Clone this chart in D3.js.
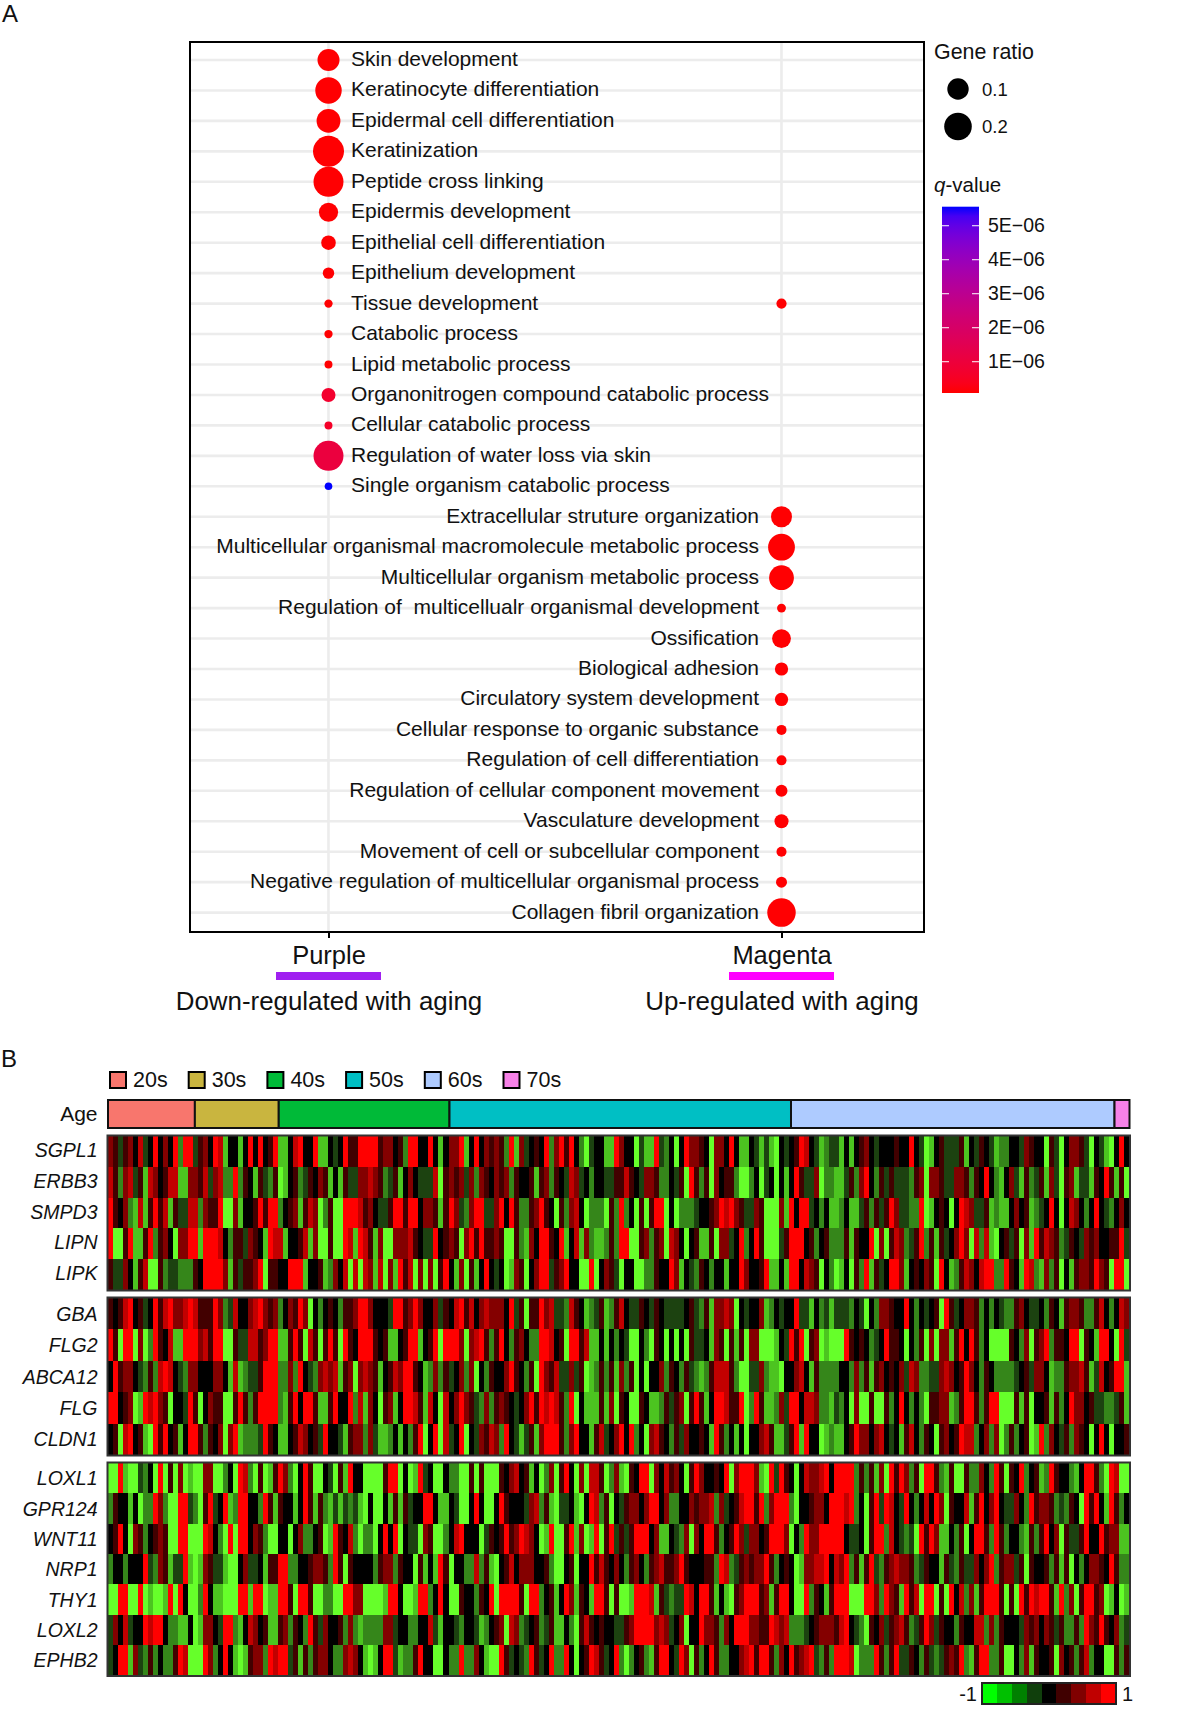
<!DOCTYPE html>
<html><head><meta charset="utf-8">
<script src="https://cdn.jsdelivr.net/npm/d3@7"></script>
<style>
html,body{margin:0;padding:0;background:#fff}
svg{display:block}
text{font-family:"Liberation Sans",Arial,sans-serif;fill:#111;white-space:pre}
</style></head><body>
<svg id="c" width="1200" height="1728" viewBox="0 0 1200 1728"></svg>
<script>
// ---------- Panel A data ----------
const terms=["Skin development","Keratinocyte differentiation","Epidermal cell differentiation","Keratinization","Peptide cross linking","Epidermis development","Epithelial cell differentiation","Epithelium development","Tissue development","Catabolic process","Lipid metabolic process","Organonitrogen compound catabolic process","Cellular catabolic process","Regulation of water loss via skin","Single organism catabolic process","Extracellular struture organization","Multicellular organismal macromolecule metabolic process","Multicellular organism metabolic process","Regulation of  multicellualr organismal development","Ossification","Biological adhesion","Circulatory system development","Cellular response to organic substance","Regulation of cell differentiation","Regulation of cellular component movement","Vasculature development","Movement of cell or subcellular component","Negative regulation of multicellular organismal process","Collagen fibril organization"];
const modules=["Purple","Magenta"];
const moduleNotes=["Down-regulated with aging","Up-regulated with aging"];
const moduleColors=["#a020f0","#ff00ff"];
// term index, module index, gene ratio, q-value
const dotTerm=[0,1,2,3,4,5,6,7,8,8,9,10,11,12,13,14,15,16,17,18,19,20,21,22,23,24,25,26,27,28];
const dotModule=[0,0,0,0,0,0,0,0,0,1,0,0,0,0,0,0,1,1,1,1,1,1,1,1,1,1,1,1,1,1];
const dotRatio=[.11,.181,.139,.25,.235,.086,.0575,.0375,.018,.03,.018,.016,.054,.016,.235,.014,.0975,.187,.155,.022,.084,.049,.049,.029,.029,.041,.054,.029,.035,.213];
const dotQ=[1e-7,1e-7,1e-7,1e-7,1e-7,1e-7,1e-7,1e-7,1e-7,1e-7,1e-7,1e-7,7e-7,6e-7,1.05e-6,5.56e-6,1e-7,1e-7,1e-7,1e-7,1e-7,1e-7,1e-7,1e-7,1e-7,1e-7,1e-7,1e-7,1e-7,1e-7];
const ratioLegend=[0.1,0.2];
const qTicks=[1e-6,2e-6,3e-6,4e-6,5e-6];
const qDomain=[0.08e-6,5.56e-6];

// ---------- Panel B data ----------
const ageGroups=["20s","30s","40s","50s","60s","70s"];
const ageColors=["#F8766D","#C9B53F","#00BA38","#00BFC4","#AECBFF","#F781E8"];
const ageCounts=[29,28,57,114,108,5];
const genes1=["SGPL1","ERBB3","SMPD3","LIPN","LIPK"];
const genes2=["GBA","FLG2","ABCA12","FLG","CLDN1"];
const genes3=["LOXL1","GPR124","WNT11","NRP1","THY1","LOXL2","EPHB2"];
// levels read by eye, 0 = strongest green, 4 = black, 8 = strongest red
const heat1=[
"6535647348 4648288356 4871441484 8458114784 4811434855 8888566452 88448414 6681484656 5281634548 2685842034 4118644031 1832404866 5406648411 43131043 4587431233 1414564344 4544843014 5333514354 3122443654 4053046653 04310484",
"7526735176 4577116657 3672282541 5325014523 5465141533 6676523514 64333705 6563626546 5625445156 2543763424 4335575436 6522435085 2506455200 24034041 4853360221 1352684253 5333256066 5336652548 4214631523 5163056133 15485150",
"8546217158 5715337726 5580061445 8588245615 7602500888 7564335885 88466515 8632688336 8485225685 4052674022 2052824050 5880402223 4456878653 36500061 8488342411 2411352535 8633228014 5404876335 1211464512 3484047642 48432464",
"8005811582 5640668818 8874255365 4187714457 1600500871 8751600666 75433845 6506858556 5005216488 5481471621 1252880056 2560764045 1150663482 48500035 8884524522 2515448060 5762358251 5346860727 1045350618 5765235436 56445583",
"5336415700 5233222548 8886153556 8055448881 4451264707 0761706185 70606058 4160514843 4016504688 3568440080 4653044002 2544861432 5424414486 44581141 8847650420 1405281534 8861454650 8412576478 8228541872 1625041566 58650880"];
const heat2=[
"5457845348 5786678755 5862374467 8656246586 0424542556 8864443885 68644635 4785746766 6483505586 7332754123 5125743354 3543333453 2516676043 44612434 4833142313 3324304266 5448424345 0853466524 2432256433 4254156652 25742476",
"8508806028 5471188867 5880053377 5688115850 7505850854 8885451145 88145808 8860678525 8425642288 7450885711 4142430042 0540404053 3416505150 66000143 8580560100 0854542348 5540425060 6615848524 0000542605 6825548805 41884083",
"4856643252 7874326644 4664171233 5888226284 3267671560 6765145768 85412625 3462604254 4685425086 5733635012 5251625040 4462542532 1257775200 33621104 4674152222 4426251564 5463762233 6764586425 4222234536 6412256675 13745881",
"8845601878 6504438504 6550058525 8888215848 8511584482 7164056148 87517407 4686532625 6543468587 8752804111 5160540054 1125356058 5148875580 28511263 8847762213 2406005005 2484242055 6612588525 8800051504 4515248664 53322351",
"4507845108 5845148852 5460681222 3854114576 4538443156 6263112414 25804807 3480436576 2843135168 8852684415 7346848240 6754253644 5418524140 44675113 5818440121 1458664674 3415742540 5645877246 2602524501 8264352654 04840445"];
const heat3=[
"0081003240 8050601006 6002408720 5015862048 5004305184 4000058804 01834004 2200505000 5467451402 6058406077 5026105488 0647564058 6445480688 86108385 4047667848 8882525160 8586250885 2150052264 2850548245 1285442148 85208700",
"2544140228 6200883205 8348128844 2851544148 5152131323 1040041515 34488411 4300484004 8544436725 1033410487 2504356646 8846224465 6672634578 85826888 2044566488 8782405838 7438424748 6054471584 6843364285 6652325408 58418524",
"4584065245 6500880008 7420808846 5200440462 2450185472 0220484804 33065002 4784440354 5856876401 8005816018 0583535888 4611432606 4885245863 66458886 0428668888 8433405882 7432308586 1142504885 2852442152 5846053358 44856611",
"2442444832 6513381016 5331004633 4155882244 5665285054 4442566254 40514185 0442272510 4574666445 2004504485 7546425642 5675568544 4552872356 56685245 4016677847 6825158325 6766523544 1532533646 8256635054 4525150424 66548522",
"0088008010 0180840028 4110008818 8011885088 5002200886 6000018840 01882484 0054425480 8888508824 5148615418 8505001888 7153233874 8851410568 88561588 4008254158 8800088628 6518570880 5084726158 8850508587 8851826058 85601401",
"3647344878 8422114016 6438821476 4511562542 8536445262 1222266344 22447314 4324431245 6076234523 5114205754 5443356888 8676346044 8665264888 66558767 2223456665 7843205463 5675235863 5442544772 6254443656 4653522528 65854623",
"3488163252 4225870008 6248410156 6287883515 2566422676 4101488312 25844004 2282264100 8534328534 8228404587 5348202452 1588438605 2485224467 85885264 8567832528 8870222852 5833542532 3565821588 2250042615 4450645257 24400525"];
const heatPalette=["#66ff2a","#4cc420","#35861a","#1c4210","#000000","#420000","#840000","#c20000","#ff0000"];
const keyValues=[-1,-.75,-.5,-.25,0,.25,.5,.75,1];
const keyColors=["#00ff00","#00c000","#008000","#103f0c","#000000","#400000","#800000","#c00000","#ff0000"];

// ---------- Drawing ----------
const svg=d3.select("#c");
svg.append("rect").attr("width",1200).attr("height",1728).attr("fill","#fff");
const panel={l:190,r:924,t:42,b:932};

svg.append("text").attr("x",2).attr("y",22).attr("font-size",24).text("A");
svg.append("text").attr("x",1).attr("y",1067).attr("font-size",24).text("B");

const yRow=d3.scalePoint().domain(d3.range(terms.length)).range([60,912.6]);
const xMod=d3.scalePoint().domain(modules).range([328.5,781.5]);
const rScale=d3.scaleLinear().domain([.01,.1,.2,.25]).range([3.5,10.7,13.8,15.5]);
const qColor=d3.scaleLinear().domain(qDomain).range(["#ff0000","#0000ff"]).interpolate(d3.interpolateLab);

const g=svg.append("g");
g.selectAll("line.h").data(terms).join("line").attr("class","h")
 .attr("x1",panel.l).attr("x2",panel.r).attr("y1",(d,i)=>yRow(i)).attr("y2",(d,i)=>yRow(i))
 .attr("stroke","#ececec").attr("stroke-width",2.6);
g.selectAll("line.v").data(modules).join("line").attr("class","v")
 .attr("x1",d=>xMod(d)).attr("x2",d=>xMod(d)).attr("y1",panel.t).attr("y2",panel.b)
 .attr("stroke","#ececec").attr("stroke-width",2.6);

const labelSide=terms.map((t,i)=>dotModule[dotTerm.indexOf(i)]);
g.selectAll("text.term").data(terms).join("text").attr("class","term")
 .attr("font-size",21)
 .attr("x",(d,i)=>labelSide[i]===0?351:759)
 .attr("y",(d,i)=>yRow(i)+6)
 .attr("text-anchor",(d,i)=>labelSide[i]===0?"start":"end")
 .text(d=>d);

g.selectAll("circle.dot").data(dotTerm).join("circle").attr("class","dot")
 .attr("cx",(d,i)=>xMod(modules[dotModule[i]]))
 .attr("cy",d=>yRow(d))
 .attr("r",(d,i)=>rScale(dotRatio[i]))
 .attr("fill",(d,i)=>qColor(dotQ[i]));

svg.append("rect").attr("x",panel.l).attr("y",panel.t).attr("width",panel.r-panel.l).attr("height",panel.b-panel.t)
 .attr("fill","none").attr("stroke","#000").attr("stroke-width",2);

// module axis
const ax=svg.append("g").attr("transform",`translate(0,${panel.b})`)
 .call(d3.axisBottom(xMod).tickSize(6).tickPadding(8));
ax.select(".domain").remove();
ax.selectAll("line").attr("stroke","#000").attr("stroke-width",2);
ax.selectAll("text").attr("font-size",25.5).attr("font-family",'"Liberation Sans",Arial,sans-serif').attr("fill","#111");
svg.selectAll("rect.mod").data(modules).join("rect").attr("class","mod")
 .attr("x",d=>xMod(d)-52.5).attr("width",105).attr("y",972).attr("height",8)
 .attr("fill",(d,i)=>moduleColors[i]);
svg.selectAll("text.note").data(moduleNotes).join("text").attr("class","note")
 .attr("x",d=>xMod(modules[moduleNotes.indexOf(d)])+.5).attr("y",1010).attr("text-anchor","middle").attr("font-size",25.9).text(d=>d);

// Gene ratio legend
svg.append("text").attr("x",934).attr("y",59).attr("font-size",21.4).text("Gene ratio");
const legY=d3.scaleOrdinal().domain(ratioLegend).range([89,126.5]);
svg.selectAll("circle.leg").data(ratioLegend).join("circle").attr("class","leg")
 .attr("cx",958).attr("cy",d=>legY(d)).attr("r",d=>rScale(d)).attr("fill","#000");
svg.selectAll("text.leg").data(ratioLegend).join("text").attr("class","leg")
 .attr("x",982).attr("y",d=>legY(d)+6.5).attr("font-size",18.5).text(d=>d.toFixed(1));

// q-value colour bar
const qt=svg.append("text").attr("x",934).attr("y",192).attr("font-size",20.5);
qt.append("tspan").attr("font-style","italic").text("q");
qt.append("tspan").text("-value");
const yQ=d3.scaleLinear().domain(qDomain).range([393,206.7]);
const defs=svg.append("defs");
const grad=defs.append("linearGradient").attr("id","qg").attr("x1",0).attr("x2",0).attr("y1",1).attr("y2",0);
grad.selectAll("stop").data(d3.range(0,1.0001,.05)).join("stop")
 .attr("offset",d=>d).attr("stop-color",d=>qColor(qDomain[0]+d*(qDomain[1]-qDomain[0])));
svg.append("rect").attr("x",942).attr("width",37).attr("y",yQ(qDomain[1])).attr("height",yQ(qDomain[0])-yQ(qDomain[1])).attr("fill","url(#qg)");
svg.selectAll("line.q1").data(qTicks).join("line").attr("class","q1")
 .attr("x1",942).attr("x2",949).attr("y1",d=>yQ(d)).attr("y2",d=>yQ(d)).attr("stroke","#fff").attr("stroke-width",1);
svg.selectAll("line.q2").data(qTicks).join("line").attr("class","q2")
 .attr("x1",972).attr("x2",979).attr("y1",d=>yQ(d)).attr("y2",d=>yQ(d)).attr("stroke","#fff").attr("stroke-width",1);
const qa=svg.append("g").attr("transform","translate(979,0)")
 .call(d3.axisRight(yQ).tickValues(qTicks).tickSize(0).tickPadding(9).tickFormat(d=>Math.round(d*1e6)+"E\u221206"));
qa.select(".domain").remove();
qa.selectAll("text").attr("font-size",19.5).attr("font-family",'"Liberation Sans",Arial,sans-serif').attr("fill","#111");

// Age legend and bar
const heatX0=108, heatX1=1129.5;
const legX=d3.scalePoint().domain(ageGroups).range([109,502.5]);
svg.selectAll("rect.al").data(ageGroups).join("rect").attr("class","al")
 .attr("x",d=>legX(d)+1).attr("y",1072).attr("width",16).attr("height",16)
 .attr("fill",(d,i)=>ageColors[i]).attr("stroke","#000").attr("stroke-width",2);
svg.selectAll("text.al").data(ageGroups).join("text").attr("class","al")
 .attr("x",d=>legX(d)+24).attr("y",1087).attr("font-size",21.5).text(d=>d);
svg.append("text").attr("x",97.5).attr("y",1121).attr("text-anchor","end").attr("font-size",21).text("Age");
const total=d3.sum(ageCounts);
const xAge=d3.scaleLinear().domain([0,total]).range([heatX0,heatX1]);
const cum=d3.cumsum(ageCounts);
svg.selectAll("rect.ab").data(ageCounts).join("rect").attr("class","ab")
 .attr("x",(d,i)=>xAge(cum[i]-d)).attr("width",d=>xAge(d)-xAge(0)).attr("y",1100).attr("height",28)
 .attr("fill",(d,i)=>ageColors[i]).attr("stroke","#111").attr("stroke-width",2);

// Heat blocks
function block(genes,rows,top,bottom,labelDy){
  const vals=rows.map(s=>s.replace(/ /g,"").split("").map(Number));
  const y=d3.scaleBand().domain(genes).range([top,bottom]);
  const G=svg.append("g").attr("shape-rendering","crispEdges");
  genes.forEach((gene,r)=>{
    const x=d3.scaleBand().domain(d3.range(vals[r].length)).range([heatX0,heatX1]);
    G.append("g").selectAll("rect").data(vals[r]).join("rect")
     .attr("x",(d,i)=>x(i)).attr("width",x.bandwidth()+.5)
     .attr("y",y(gene)).attr("height",y.bandwidth()+.5)
     .attr("fill",d=>heatPalette[d]);
  });
  svg.append("rect").attr("x",heatX0-.5).attr("y",top-.5).attr("width",heatX1-heatX0+1).attr("height",bottom-top+1)
   .attr("fill","none").attr("stroke","#333").attr("stroke-width",2);
  svg.append("g").selectAll("text").data(genes).join("text")
   .attr("x",97.5).attr("y",d=>y(d)+y.bandwidth()/2+7+labelDy).attr("text-anchor","end")
   .attr("font-size",19.5).attr("font-style","italic").text(d=>d);
}
block(genes1,heat1,1136,1290,-1.5);
block(genes2,heat2,1298,1455,0);
block(genes3,heat3,1463,1675.5,0);

// Bottom key
const keyX=d3.scaleBand().domain(keyValues).range([982.5,1115.5]);
svg.append("g").attr("shape-rendering","crispEdges").selectAll("rect").data(keyValues).join("rect")
 .attr("x",d=>keyX(d)).attr("width",keyX.bandwidth()+.5).attr("y",1683).attr("height",21)
 .attr("fill",(d,i)=>keyColors[i]);
svg.append("rect").attr("x",982).attr("y",1683).attr("width",134).attr("height",21).attr("fill","none").attr("stroke","#222").attr("stroke-width",2);
svg.append("text").attr("x",977).attr("y",1701).attr("text-anchor","end").attr("font-size",20).text("-1");
svg.append("text").attr("x",1122).attr("y",1701).attr("font-size",20).text("1");
</script>
</body></html>
